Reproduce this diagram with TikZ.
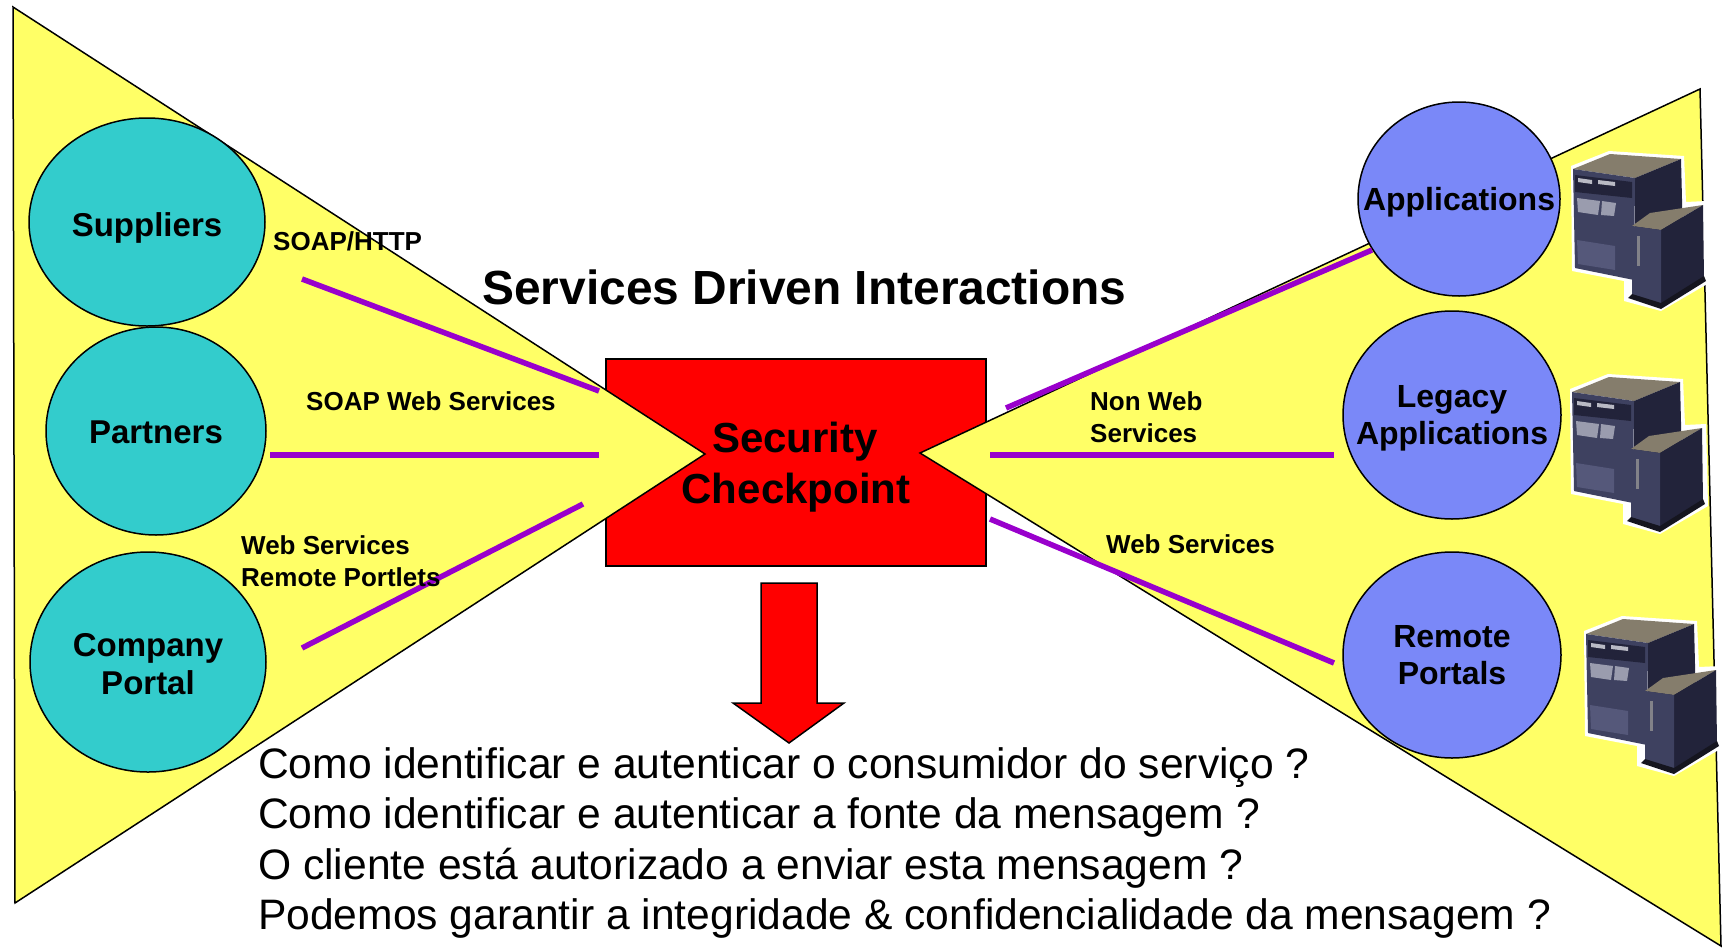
\documentclass[tikz,border=0pt]{standalone}
\usepackage{fontspec}
\setmainfont{Liberation Sans}
\usetikzlibrary{shapes.geometric}

\definecolor{cyellow}{HTML}{FFFF66}
\definecolor{cteal}{HTML}{33CCCC}
\definecolor{cblue}{HTML}{7A88F8}
\definecolor{cpurple}{HTML}{9900CC}
\definecolor{cred}{HTML}{FF0000}
\definecolor{srvtop}{HTML}{857D6C}
\definecolor{srvdark}{HTML}{22233A}
\definecolor{srvfront}{HTML}{3E4160}
\definecolor{srvslot}{HTML}{B9BAC4}
\definecolor{srvdoor}{HTML}{9A9CAE}
\definecolor{srvmid}{HTML}{55587A}
\definecolor{srvbase}{HTML}{15151F}

\tikzset{
  funnel/.style={fill=cyellow, draw=black, line width=1.5pt, line join=miter},
  consumer/.style={ellipse, fill=cteal, draw=black, line width=1.5pt, inner sep=0pt},
  provider/.style={ellipse, fill=cblue, draw=black, line width=1.5pt, inner sep=0pt},
  checkbox/.style={rectangle, fill=cred, draw=black, line width=2pt, inner sep=0pt,
    minimum width=380pt, minimum height=207pt},
  link/.style={draw=cpurple, line width=5.5pt},
  nodelabel/.style={anchor=base, inner sep=0pt, font=\fontsize{33}{38}\selectfont\bfseries},
  rightlabel/.style={anchor=base, inner sep=0pt, font=\fontsize{32}{37}\selectfont\bfseries},
  linklabel/.style={anchor=base west, inner sep=0pt, font=\fontsize{26}{30}\selectfont\bfseries},
  checklabel/.style={anchor=base, inner sep=0pt, font=\fontsize{42}{48}\selectfont\bfseries},
  question/.style={anchor=base west, inner sep=0pt, font=\fontsize{42.6}{50}\selectfont},
  server/.pic={
    % white fringe behind the machine
    \fill[white] (11,26) -- (49,11) -- (124,16) -- (126,62) -- (147,61) -- (149,143)
      -- (101,171) -- (64,161) -- (64,141) -- (12,131) -- cycle;
    % main tower
    \fill[srvtop] (13,29) -- (50,14) -- (121,19) -- (75,38) -- cycle;
    \fill[srvdark] (75,38) -- (121,19) -- (123,100) -- (75,125) -- cycle;
    \fill[srvfront] (13,29) -- (75,38) -- (74,140) -- (15,128) -- cycle;
    \fill[srvdark] (15,35) -- (72,42) -- (72,58) -- (15,52) -- cycle;
    \fill[srvslot] (18,38) -- (32,40) -- (32,44) -- (18,42) -- cycle;
    \fill[srvslot] (38,40) -- (55,42) -- (55,46) -- (38,44) -- cycle;
    \fill[srvdoor] (17,58) -- (40,61) -- (38,75) -- (18,72) -- cycle;
    \fill[srvdoor] (42,61) -- (56,63) -- (54,76) -- (41,75) -- cycle;
    \fill[srvmid] (17,100) -- (55,106) -- (55,130) -- (18,124) -- cycle;
    % expansion unit in front
    \fill[srvtop] (72,86) -- (90,73) -- (143,65) -- (101,90) -- cycle;
    \fill[srvdark] (101,90) -- (143,65) -- (144,140) -- (101,165) -- cycle;
    \fill[srvfront] (72,86) -- (101,90) -- (101,165) -- (72,158) -- cycle;
    \fill[srvslot!70!black] (77,96) rectangle (80,126);
    \fill[srvbase] (68,158) -- (101,169) -- (146,141) -- (144,136) -- (101,163) -- (72,154) -- cycle;
  }
}

\begin{document}
\begin{tikzpicture}[x=1pt, y=-1pt]
  \useasboundingbox (0,0) rectangle (1723,948);

  % central checkpoint box (drawn first, the funnels overlap it)
  \node[checkbox] (check) at (796,462.5) {};

  % the two funnels
  \draw[funnel] (13,7) -- (705,454) -- (15,903) -- cycle;
  \draw[funnel] (920,453) -- (1700,89) -- (1721,946) -- cycle;

  % service consumers
  \node[consumer, minimum width=236pt, minimum height=208pt] (sup) at (147,222) {};
  \node[consumer, minimum width=220pt, minimum height=208pt] (par) at (156,431) {};
  \node[consumer, minimum width=236pt, minimum height=220pt] (cpo) at (148,662) {};

  % service providers
  \node[provider, minimum width=202pt, minimum height=194pt] (app) at (1459,199) {};
  \node[provider, minimum width=218pt, minimum height=208pt] (leg) at (1452,415) {};
  \node[provider, minimum width=218pt, minimum height=206pt] (rem) at (1452,655) {};

  % connector end points
  \coordinate (l1a) at (302,279);  \coordinate (l1b) at (599,391);
  \coordinate (l2a) at (270,455);  \coordinate (l2b) at (599,455);
  \coordinate (l3a) at (302,648);  \coordinate (l3b) at (583,504);
  \coordinate (r1a) at (1006,408); \coordinate (r1b) at (1372,250);
  \coordinate (r2a) at (990,455);  \coordinate (r2b) at (1334,455);
  \coordinate (r3a) at (990,519);  \coordinate (r3b) at (1334,663);

  % protocol links
  \draw[link] (l1a) -- (l1b);
  \draw[link] (l2a) -- (l2b);
  \draw[link] (l3a) -- (l3b);
  \draw[link] (r1a) -- (r1b);
  \draw[link] (r2a) -- (r2b);
  \draw[link] (r3a) -- (r3b);

  % servers behind the providers
  \pic at (1560,140) {server};
  \pic at (1559,363) {server};
  \pic at (1573,605) {server};

  % labels inside the ellipses
  \node[nodelabel] (tsup) at (147,236) {Suppliers};
  \node[nodelabel] (tpar) at (156,443) {Partners};
  \node[nodelabel] (tcpo1) at (148,656) {Company};
  \node[nodelabel] (tcpo2) at (148,694) {Portal};
  \node[rightlabel] (tapp) at (1459,210) {Applications};
  \node[rightlabel] (tleg1) at (1452,407) {Legacy};
  \node[rightlabel] (tleg2) at (1452,444) {Applications};
  \node[rightlabel] (trem1) at (1452,647) {Remote};
  \node[rightlabel] (trem2) at (1452,684) {Portals};

  % link labels
  \node[linklabel] (soaphttp) at (273,250) {SOAP/HTTP};
  \node[linklabel] (soapws) at (306,410) {SOAP Web Services};
  \node[linklabel] (wsrp1) at (241,554) {Web Services};
  \node[linklabel] (wsrp2) at (241,586) {Remote Portlets};
  \node[linklabel] (nonws1) at (1090,410) {Non Web};
  \node[linklabel] (nonws2) at (1090,442) {Services};
  \node[linklabel] (ws) at (1106,553) {Web Services};

  % title
  \node[anchor=base west, inner sep=0pt, font=\fontsize{47.9}{54}\selectfont\bfseries]
    (title) at (482,304) {Services Driven Interactions};

  % checkpoint text
  \node[checklabel] (tcheck1) at (795,452) {Security};
  \node[checklabel] (tcheck2) at (796,503) {Checkpoint};

  % downward arrow
  \draw[fill=cred, draw=black, line width=1.5pt, line join=miter]
    (761,583) -- (817,583) -- (817,703) -- (844,703) -- (789,743) -- (733,703) -- (761,703) -- cycle;

  % questions
  \node[question] (q1) at (258,778) {Como identificar e autenticar o consumidor do serviço ?};
  \node[question] (q2) at (258,828.5) {Como identificar e autenticar a fonte da mensagem ?};
  \node[question] (q3) at (258,879) {O cliente está autorizado a enviar esta mensagem ?};
  \node[question] (q4) at (258,929) {Podemos garantir a integridade \& confidencialidade da mensagem ?};
\end{tikzpicture}
\end{document}
